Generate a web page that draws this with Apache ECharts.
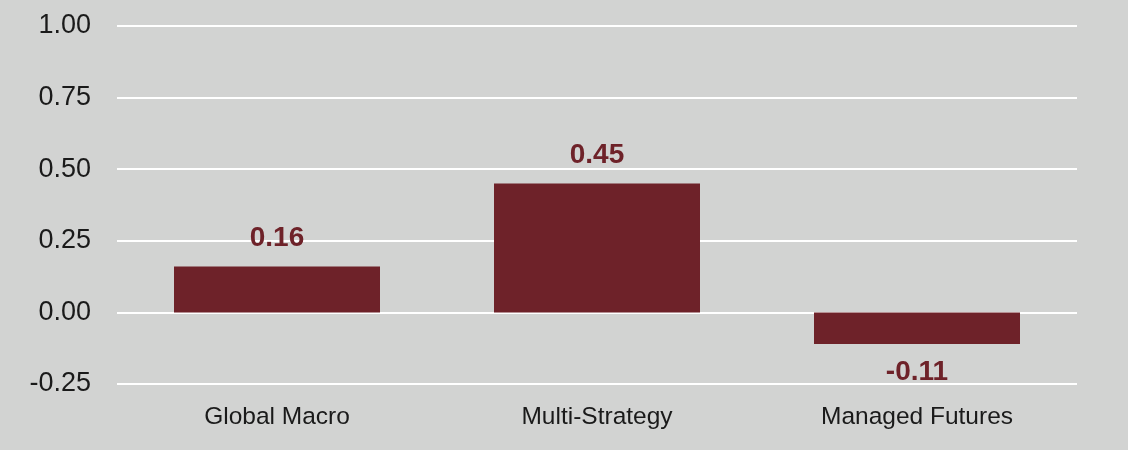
<!DOCTYPE html>
<html>
<head>
<meta charset="utf-8">
<script src="https://cdn.jsdelivr.net/npm/echarts@6/dist/echarts.min.js"></script>
<style>
  html, body { margin: 0; padding: 0; background: #d2d3d2; }
  #chart { width: 1128px; height: 450px; }
</style>
</head>
<body>
<div id="chart"></div>
<script>
// Strategy categories and their values
const categories = ['Global Macro', 'Multi-Strategy', 'Managed Futures'];
const values = [0.16, 0.45, -0.11];

// Value axis range and step
const yMin = -0.25;
const yMax = 1.0;
const yStep = 0.25;

const barColor = '#6e2229';
const fontFamily = '"Liberation Sans", Arial, sans-serif';

const chart = echarts.init(document.getElementById('chart'));

chart.setOption({
  backgroundColor: '#d2d3d2',
  animation: false,
  grid: { left: 117, right: 51, top: 26, bottom: 66, containLabel: false },
  xAxis: {
    type: 'category',
    data: categories,
    axisLine: { show: false },
    axisTick: { show: false },
    axisLabel: { color: '#1a1a1a', fontSize: 24.5, fontFamily: fontFamily, margin: 21 }
  },
  yAxis: {
    type: 'value',
    min: yMin,
    max: yMax,
    interval: yStep,
    axisLine: { show: false },
    axisTick: { show: false },
    axisLabel: {
      color: '#1a1a1a',
      fontSize: 27,
      fontFamily: fontFamily,
      margin: 26,
      formatter: v => v.toFixed(2)
    },
    splitLine: { lineStyle: { color: '#ffffff', width: 2 } }
  },
  series: [{
    type: 'bar',
    barWidth: 206,
    itemStyle: { color: barColor },
    data: values.map(v => ({
      value: v,
      label: { position: v >= 0 ? 'top' : 'bottom' }
    })),
    label: {
      show: true,
      color: barColor,
      fontSize: 28,
      fontWeight: 'bold',
      fontFamily: fontFamily,
      distance: 14,
      formatter: p => p.value.toFixed(2)
    }
  }]
});
</script>
</body>
</html>
